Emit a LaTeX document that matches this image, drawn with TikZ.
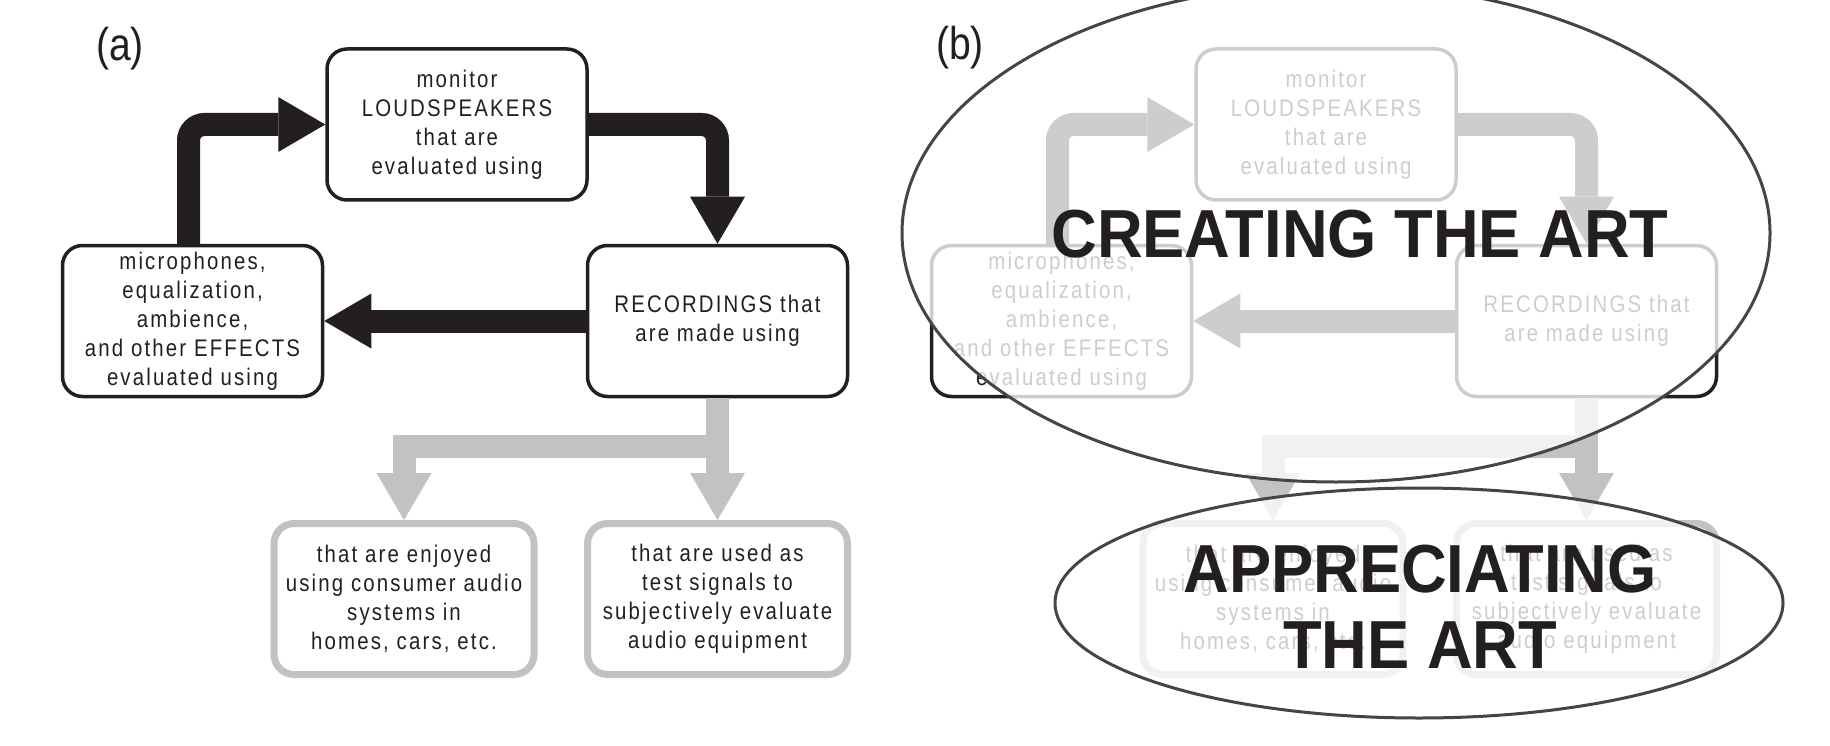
\documentclass[tikz,border=0pt]{standalone}
\usepackage{fontspec}
\setmainfont{Liberation Sans}
\newfontfamily\boxfont[FakeStretch=0.85,LetterSpace=9]{Liberation Sans}
\newfontfamily\labelfont[FakeStretch=0.85]{Liberation Sans}
\newfontfamily\artfont[FakeStretch=0.93]{Liberation Sans}
\usetikzlibrary{arrows.meta,shapes.geometric}
\definecolor{ink}{HTML}{231F20}
\definecolor{pale}{HTML}{C1C2C4}
\definecolor{ringline}{HTML}{454545}

\begin{document}
\begin{tikzpicture}[x=1pt,y=-1pt]
\tikzset{stagebox/.style={draw=ink, line width=3.5pt, rounded corners=20pt, minimum width=260pt, minimum height=151pt, inner sep=0pt, align=center, text=ink, font=\boxfont\fontsize{24}{29}\selectfont}}
\tikzset{palebox/.style={stagebox, draw=pale, line width=7pt}}
\tikzset{fatarrow/.style={draw=ink, line width=23pt, rounded corners=16pt, -{Triangle[width=55pt,length=47pt,line width'=0pt]}}}
\tikzset{palearrow/.style={fatarrow, draw=pale, rounded corners=0pt}}
\tikzset{panel/.style={text=ink, inner sep=0pt, font=\labelfont\fontsize{46}{46}\selectfont}}
\tikzset{ring/.style={ellipse, draw=ringline, line width=3pt, fill=white, fill opacity=0.78, inner sep=0pt}}
\tikzset{arttext/.style={text=ink, inner sep=0pt, align=center, font=\artfont\bfseries\fontsize{68}{76}\selectfont}}
\useasboundingbox (0,0) rectangle (1830,746);
\clip (0,0) rectangle (1830,746);
\node[panel] (la) at (120,49) {(a)};
\node[panel] (lb) at (960,48) {(b)};
\foreach \p/\dx in {a/0, b/869} {
\begin{scope}[xshift=\dx]
\node[stagebox] (\p-spk) at (457,124.5) {monitor\\LOUDSPEAKERS\\that are\\evaluated using};
\node[stagebox] (\p-fx) at (192.5,321) {microphones,\\equalization,\\ambience,\\and other EFFECTS\\evaluated using};
\node[stagebox] (\p-rec) at (717.5,321) {RECORDINGS that\\are made using};
\node[palebox] (\p-enjoy) at (404,599) {that are enjoyed\\using consumer audio\\systems in\\homes, cars, etc.};
\node[palebox] (\p-test) at (717.5,599) {that are used as\\test signals to\\subjectively evaluate\\audio equipment};
\draw[fatarrow] ([xshift=-4pt]\p-fx.north) |- (\p-spk.west);
\draw[fatarrow] (\p-spk.east) -| (\p-rec.north);
\draw[fatarrow] (\p-rec.west) -- (\p-fx.east);
\draw[palearrow] (\p-rec.south) -- (\p-test.north);
\draw[palearrow] ([yshift=-48pt]\p-rec.south) -| (\p-enjoy.north);
\end{scope}
}
\node[ring, minimum width=868pt, minimum height=498pt] (create) at (1336,233) {};
\node[ring, minimum width=728pt, minimum height=230pt] (enjoyring) at (1419,603) {};
\node[arttext] (createtxt) at (1360,234.5) {CREATING THE ART};
\node[arttext] (enjoytxt) at (1420,606.5) {APPRECIATING\\THE ART};
\end{tikzpicture}
\end{document}
